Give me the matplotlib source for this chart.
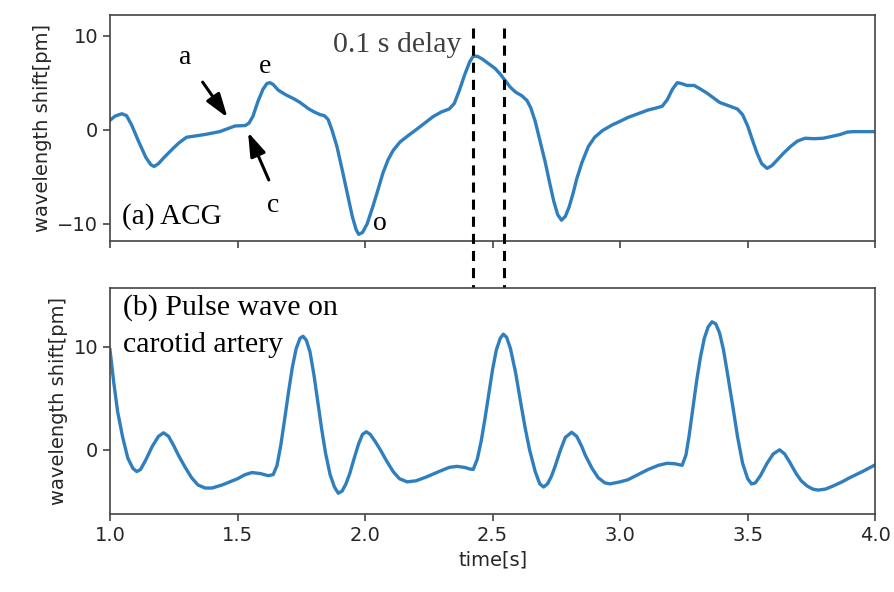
import matplotlib
matplotlib.use("Agg")
import matplotlib.pyplot as plt
from matplotlib.transforms import blended_transform_factory

# ACG (top) series
acg_t = [1.00, 1.02, 1.047, 1.065, 1.085, 1.11, 1.14, 1.16, 1.173, 1.19, 1.21, 1.243,
         1.27, 1.30, 1.373, 1.43, 1.46, 1.49, 1.53, 1.545, 1.56, 1.58, 1.60, 1.615,
         1.627, 1.64, 1.66, 1.69, 1.72, 1.745, 1.78, 1.80, 1.824, 1.84, 1.855, 1.87,
         1.89, 1.91, 1.93, 1.95, 1.965, 1.975, 1.99, 2.008, 2.03, 2.047, 2.07, 2.09,
         2.11, 2.137, 2.17, 2.20, 2.267, 2.30, 2.33, 2.35, 2.37, 2.39, 2.41, 2.424,
         2.44, 2.46, 2.48, 2.51, 2.53, 2.55, 2.57, 2.59, 2.615, 2.635, 2.65, 2.667,
         2.686, 2.706, 2.725, 2.74, 2.755, 2.77, 2.785, 2.80, 2.815, 2.83, 2.85, 2.875,
         2.90, 2.93, 2.968, 3.00, 3.03, 3.07, 3.11, 3.14, 3.165, 3.185, 3.205, 3.224,
         3.24, 3.263, 3.29, 3.31, 3.34, 3.37, 3.39, 3.42, 3.46, 3.48, 3.50, 3.52,
         3.537, 3.555, 3.576, 3.595, 3.616, 3.64, 3.667, 3.695, 3.725, 3.76, 3.796, 3.83,
         3.863, 3.89, 3.914, 3.95, 4.00]
acg_v = [1.0, 1.45, 1.7, 1.5, 0.5, -1.1, -2.9, -3.7, -3.9, -3.6, -3.0, -2.1,
         -1.4, -0.8, -0.5, -0.2, 0.1, 0.4, 0.45, 0.7, 1.4, 3.0, 4.3, 4.9,
         5.0, 4.8, 4.2, 3.7, 3.3, 2.9, 2.2, 1.9, 1.6, 1.5, 1.1, 0.0,
         -1.8, -4.2, -6.7, -9.2, -10.6, -11.1, -10.9, -10.0, -8.2, -6.7, -4.6, -3.2,
         -2.2, -1.3, -0.6, 0.0, 1.4, 1.9, 2.2, 2.8, 4.2, 5.8, 7.2, 7.8,
         7.8, 7.5, 7.1, 6.5, 5.9, 5.2, 4.5, 4.0, 3.6, 3.1, 2.3, 0.9,
         -1.2, -3.4, -5.8, -7.6, -9.0, -9.6, -9.2, -8.2, -6.8, -5.2, -3.5, -1.8,
         -0.8, -0.1, 0.5, 0.9, 1.3, 1.7, 2.1, 2.3, 2.5, 3.2, 4.3, 5.0,
         4.9, 4.7, 4.7, 4.4, 3.9, 3.3, 2.9, 2.6, 2.2, 1.6, 0.4, -1.2,
         -2.5, -3.6, -4.1, -3.8, -3.2, -2.5, -1.8, -1.2, -0.9, -0.95, -0.9, -0.7,
         -0.5, -0.25, -0.2, -0.2, -0.2]

# Carotid pulse wave (bottom) series
pw_t = [1.00, 1.015, 1.03, 1.05, 1.07, 1.09, 1.105, 1.12, 1.14, 1.165, 1.19, 1.21,
        1.23, 1.25, 1.27, 1.295, 1.32, 1.345, 1.373, 1.40, 1.44, 1.50, 1.53, 1.557,
        1.59, 1.62, 1.64, 1.655, 1.67, 1.685, 1.70, 1.715, 1.73, 1.745, 1.757, 1.77,
        1.784, 1.80, 1.815, 1.83, 1.845, 1.863, 1.88, 1.895, 1.91, 1.925, 1.94, 1.96,
        1.975, 1.99, 2.005, 2.02, 2.04, 2.06, 2.085, 2.11, 2.135, 2.165, 2.20, 2.243,
        2.29, 2.33, 2.36, 2.39, 2.41, 2.424, 2.44, 2.455, 2.47, 2.485, 2.50, 2.515,
        2.53, 2.542, 2.555, 2.57, 2.59, 2.61, 2.627, 2.645, 2.667, 2.685, 2.70, 2.715,
        2.73, 2.745, 2.765, 2.785, 2.81, 2.83, 2.85, 2.863, 2.89, 2.914, 2.94, 2.96,
        3.00, 3.03, 3.07, 3.11, 3.15, 3.184, 3.215, 3.243, 3.258, 3.27, 3.285, 3.30,
        3.315, 3.33, 3.345, 3.36, 3.375, 3.39, 3.405, 3.42, 3.443, 3.46, 3.48, 3.50,
        3.515, 3.53, 3.55, 3.576, 3.60, 3.625, 3.645, 3.665, 3.69, 3.71, 3.733, 3.755,
        3.776, 3.805, 3.835, 3.87, 3.90, 3.95, 4.00]
pw_v = [9.7, 6.5, 3.7, 1.2, -0.8, -1.8, -2.1, -1.9, -1.0, 0.3, 1.3, 1.65,
        1.3, 0.4, -0.6, -1.7, -2.7, -3.4, -3.7, -3.7, -3.4, -2.8, -2.4, -2.2,
        -2.3, -2.5, -2.4, -1.5, 0.5, 3.0, 5.6, 8.0, 9.8, 10.8, 11.0, 10.6,
        9.5, 7.2, 4.6, 2.0, -0.3, -2.4, -3.6, -4.2, -4.0, -3.3, -2.3, -0.6,
        0.6, 1.5, 1.75, 1.5, 0.8, 0.0, -1.1, -2.1, -2.8, -3.1, -3.0, -2.6,
        -2.1, -1.7, -1.6, -1.7, -1.85, -1.9, -0.9, 0.8, 3.0, 5.4, 7.8, 9.7,
        10.8, 11.2, 10.9, 9.8, 7.5, 4.6, 2.2, 0.0, -2.1, -3.3, -3.6, -3.3,
        -2.6, -1.6, -0.1, 1.2, 1.7, 1.3, 0.3, -0.5, -1.8, -2.7, -3.2, -3.3,
        -3.1, -2.9, -2.4, -1.9, -1.5, -1.3, -1.35, -1.5, -0.5, 1.3, 4.0, 6.7,
        9.0, 10.8, 11.9, 12.4, 12.2, 11.3, 9.7, 7.5, 4.0, 1.3, -1.3, -2.8,
        -3.3, -3.2, -2.5, -1.3, -0.4, 0.0, -0.4, -1.2, -2.3, -3.0, -3.5, -3.8,
        -3.9, -3.8, -3.5, -3.1, -2.7, -2.1, -1.45]

delay_lines = [2.424, 2.545]
x_ticks = [1.0, 1.5, 2.0, 2.5, 3.0, 3.5, 4.0]
x_tick_labels = ['1.0', '1.5', '2.0', '2.5', '3.0', '3.5', '4.0']

line_color = '#2f7fbf'
serif = ['Liberation Serif', 'DejaVu Serif']

fig = plt.figure(figsize=(8.94, 5.92), dpi=100)
ax1 = fig.add_axes([0.123, 0.593, 0.856, 0.382])
ax2 = fig.add_axes([0.123, 0.132, 0.856, 0.382])

for ax in (ax1, ax2):
    ax.set_xlim(1.0, 4.0)
    ax.set_xticks(x_ticks)
    for s in ax.spines.values():
        s.set_color('#444444')
        s.set_linewidth(1.2)
    ax.tick_params(labelsize=14, colors='#444444', labelcolor='#262626', width=1.2, length=5)

ax1.plot(acg_t, acg_v, color=line_color, lw=2.4, solid_joinstyle='round')
ax1.set_ylim(-11.8, 12.2)
ax1.set_yticks([-10, 0, 10])
ax1.tick_params(labelbottom=False)
ax1.set_ylabel('wavelength shift[pm]', fontsize=14, color='#262626')

ax2.plot(pw_t, pw_v, color=line_color, lw=2.4, solid_joinstyle='round')
ax2.set_ylim(-6.2, 15.7)
ax2.set_yticks([0, 10])
ax2.set_xticklabels(x_tick_labels)
ax2.set_ylabel('wavelength shift[pm]', fontsize=14, color='#262626')
ax2.set_xlabel('time[s]', fontsize=14, color='#262626')

# dashed delay lines spanning both panels
tr = blended_transform_factory(ax1.transData, fig.transFigure)
for x, yb in zip(delay_lines, [0.205, 0.199]):
    ax1.plot([x, x], [0.953, yb], transform=tr, clip_on=False, color='black',
             lw=2.2, linestyle=(0, (3.3, 2.3)), zorder=5)

# annotations
ax1.text(1.875, 9.0, '0.1 s delay', fontsize=21.5, family=serif, color='#404040',
         ha='left', va='center')
ax1.text(1.047, -9.25, '(a) ACG', fontsize=21, family=serif, ha='left', va='center')
ax1.text(1.294, 7.66, 'a', fontsize=20, family=serif, ha='center', va='center')
ax1.text(1.608, 6.7, 'e', fontsize=20, family=serif, ha='center', va='center')
ax1.text(1.639, -8.0, 'c', fontsize=20, family=serif, ha='center', va='center')
ax1.text(2.059, -10.0, 'o', fontsize=20, family=serif, ha='center', va='center')
ax1.annotate('', xy=(1.467, 1.06), xytext=(1.357, 5.3),
             arrowprops=dict(arrowstyle='-|>,head_length=0.6,head_width=0.2',
                             color='black', lw=2.2, mutation_scale=24))
ax1.annotate('', xy=(1.537, 0.0), xytext=(1.627, -5.6),
             arrowprops=dict(arrowstyle='-|>,head_length=0.6,head_width=0.2',
                             color='black', lw=2.2, mutation_scale=24))

ax2.text(1.05, 13.8, '(b) Pulse wave on', fontsize=21.5, family=serif, ha='left', va='center')
ax2.text(1.05, 10.2, 'carotid artery', fontsize=21.5, family=serif, ha='left', va='center')

fig.savefig('out.png', dpi=100)
